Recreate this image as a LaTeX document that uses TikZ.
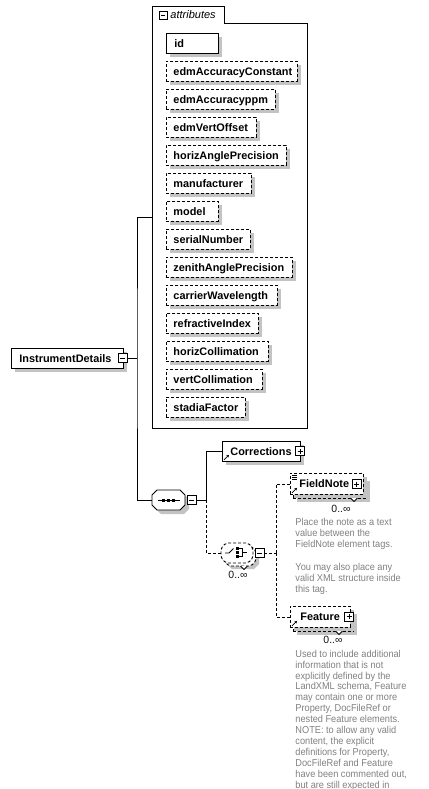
\documentclass[tikz,border=0pt]{standalone}
\usepackage{fontspec}
\setmainfont{Liberation Sans}
\newfontfamily\docfont[FakeStretch=0.92]{Liberation Sans}
\usetikzlibrary{shadows,arrows.meta}
\definecolor{shadowc}{RGB}{195,195,195}
\definecolor{docc}{RGB}{128,128,128}
\definecolor{occc}{RGB}{20,20,20}
\newcommand\octpath[5]{(#1-#3+#5,#2-#4) -- (#1+#3-#5,#2-#4) -- (#1+#3,#2-#4+#5) -- (#1+#3,#2+#4-#5) -- (#1+#3-#5,#2+#4) -- (#1-#3+#5,#2+#4) -- (#1-#3,#2+#4-#5) -- (#1-#3,#2-#4+#5) -- cycle}
\newcommand\mybox[3]{\makebox[#1pt][l]{\hspace*{#2pt}#3}}
\tikzset{
  dsh/.style={dash pattern=on 3pt off 2pt},
  shad/.style={general shadow={fill=shadowc, shadow xshift=4pt, shadow yshift=-4pt}},
  bx/.style={draw, fill=white, rectangle, anchor=north west, inner sep=0pt, minimum height=20pt, text height=10pt, text depth=2pt, font=\fontsize{10.9}{13}\selectfont\bfseries, shad},
  reqbox/.style={bx},
  optbox/.style={bx, dsh},
  pmbox/.style={draw, fill=white, rectangle, inner sep=0pt, minimum size=9pt, line width=0.8pt},
  minus/.style={pmbox, path picture={\draw[line width=0.8pt] ([xshift=2pt]path picture bounding box.west) -- ([xshift=-2pt]path picture bounding box.east);}},
  plus/.style={pmbox, path picture={\draw[line width=0.8pt] ([xshift=2pt]path picture bounding box.west) -- ([xshift=-2pt]path picture bounding box.east) ([yshift=-2pt]path picture bounding box.north) -- ([yshift=2pt]path picture bounding box.south);}},
  reficon/.style={-{Stealth[length=2.6pt,width=2.8pt]}, line width=0.7pt},
  doc/.style={anchor=north west, inner sep=0pt, align=left, font=\docfont\fontsize{10}{11.1}\selectfont, text=docc},
  occ/.style={inner sep=0pt, font=\fontsize{10.5}{12}\selectfont, text=occc},
  hub/.style={inner sep=0pt, minimum width=#1, minimum height=20pt},
}
\begin{document}
\begin{tikzpicture}[x=1pt,y=-1pt, line width=0.9pt]
\useasboundingbox (0,0) rectangle (428,789);

% attributes container
\draw[fill=white] (152,428) -- (152,6) -- (224,6) -- (224,23) -- (307,23) -- (307,428) -- cycle;
\coordinate (attrs) at (152,217);
\node[minus, minimum size=8pt] (attrmin) at (163,15) {};
\node[anchor=west, inner sep=0pt, font=\fontsize{11}{13}\selectfont\itshape] (attrlbl) at (170,15) {attributes};

\node[reqbox] (a01) at (166,33)  {\mybox{52}{8}{id}};
\node[optbox] (a02) at (166,61)  {\mybox{131}{7}{edmAccuracyConstant}};
\node[optbox] (a03) at (166,89)  {\mybox{109}{7}{edmAccuracyppm}};
\node[optbox] (a04) at (166,117) {\mybox{90}{7}{edmVertOffset}};
\node[optbox] (a05) at (166,145) {\mybox{120}{7}{horizAnglePrecision}};
\node[optbox] (a06) at (166,173) {\mybox{85}{7}{manufacturer}};
\node[optbox] (a07) at (166,201) {\mybox{52}{7}{model}};
\node[optbox] (a08) at (166,229) {\mybox{84}{7}{serialNumber}};
\node[optbox] (a09) at (166,257) {\mybox{126}{7}{zenithAnglePrecision}};
\node[optbox] (a10) at (166,285) {\mybox{111}{7}{carrierWavelength}};
\node[optbox] (a11) at (166,313) {\mybox{92}{7}{refractiveIndex}};
\node[optbox] (a12) at (166,341) {\mybox{102}{7}{horizCollimation}};
\node[optbox] (a13) at (166,369) {\mybox{96}{7}{vertCollimation}};
\node[optbox] (a14) at (166,397) {\mybox{79}{7}{stadiaFactor}};

% root element
\node[reqbox] (instr) at (11,348) {\mybox{112}{8}{InstrumentDetails}};
\node[minus] (instrmin) at (122.5,358) {};

% sequence compositor
\node[hub=33pt] (seq) at (168.5,500) {};
\fill[shadowc] \octpath{172.5}{504}{16.5}{10}{5};
\draw[fill=white] \octpath{168.5}{500}{16.5}{10}{5};
\draw[line width=0.8pt] (158,500) -- (180,500);
\fill (162,498.5) rectangle +(3,3);
\fill (167,498.5) rectangle +(3,3);
\fill (172,498.5) rectangle +(3,3);
\node[minus] (seqmin) at (191.5,500) {};

% Corrections
\node[reqbox] (corr) at (222,441) {\mybox{78}{8}{Corrections}};
\draw[reficon] ([shift={(2,-2)}]corr.south west) -- ([shift={(7,-7)}]corr.south west);
\node[plus] (corrplus) at (300,451) {};

% choice compositor
\node[hub=32pt] (choice) at (237,553) {};
\fill[shadowc] \octpath{243}{559}{16}{10}{5};
\draw[dsh, fill=white, rounded corners=2pt] \octpath{240}{556}{16}{10}{5};
\draw[dsh, fill=white, rounded corners=2pt] \octpath{237}{553}{16}{10}{5};
\draw[fill=white, line width=0.8pt] (240.5,566) -- (244,569.5) -- (247.5,566);
\draw[line width=0.8pt] (225,553) -- (229,553) -- (233.5,548.5);
\fill (236,547) rectangle +(2.6,2.6);
\fill (236,551) rectangle +(2.6,2.6);
\fill (236,555) rectangle +(2.6,2.6);
\draw[line width=0.8pt] (238.6,548.3) -- (242,548.3) -- (242,556.3) -- (238.6,556.3) (242,552.3) -- (247,552.3);
\node[minus] (chmin) at (259.5,553) {};
\node[occ] (chocc) at (238,575) {0..∞};

% FieldNote
\node[optbox, minimum width=73pt, minimum height=21pt] (fnback) at (293,477) {};
\draw[fill=white, line width=0.8pt] (350.5,498) -- (354,501.5) -- (357.5,498);
\node[optbox, minimum height=21pt, general shadow={}] (fieldnote) at (290,473) {\mybox{73}{9}{FieldNote}};
\draw[line width=0.6pt] (292,475.5) -- (297,475.5) (292,477.5) -- (297,477.5) (292,479.5) -- (297,479.5);
\draw[reficon] ([shift={(2,-2)}]fieldnote.south west) -- ([shift={(7,-7)}]fieldnote.south west);
\node[plus] (fnplus) at (356.5,484) {};
\node[occ] (fnocc) at (341,509) {0..∞};
\node[doc] (fndoc) at (295,518) {Place the note as a text\\value between the\\FieldNote element tags.\\\mbox{}\\You may also place any\\valid XML structure inside\\this tag.};

% Feature
\node[optbox, minimum width=60pt, minimum height=21pt] (feback) at (293,610) {};
\draw[fill=white, line width=0.8pt] (335.5,631) -- (339,634.5) -- (342.5,631);
\node[optbox, minimum height=21pt, general shadow={}] (feature) at (290,606) {\mybox{60}{10}{Feature}};
\draw[reficon] ([shift={(2,-2)}]feature.south west) -- ([shift={(7,-7)}]feature.south west);
\node[plus] (feplus) at (349,616.5) {};
\node[occ] (feocc) at (333,640) {0..∞};
\node[doc, font=\docfont\fontsize{10}{10.9}\selectfont] (fedoc) at (295,649.5) {Used to include additional\\information that is not\\explicitly defined by the\\LandXML schema, Feature\\may contain one or more\\Property, DocFileRef or\\nested Feature elements.\\NOTE: to allow any valid\\content, the explicit\\definitions for Property,\\DocFileRef and Feature\\have been commented out,\\but are still expected in};

% connectors
\coordinate (bus1) at (137,358);
\coordinate (bus2) at (206,500);
\coordinate (bus3) at (276,553);
\draw (instrmin.east) -- (bus1);
\draw (attrs) -| (bus1) |- (seq.west);
\draw (seqmin.east) -- (bus2);
\draw (bus2) |- (corr.west);
\draw[dsh] (bus2) |- (choice.west);
\draw[dsh] (chmin.east) -- (bus3);
\draw[dsh] (bus3) |- (fieldnote.west);
\draw[dsh] (bus3) |- (feature.west);
\end{tikzpicture}
\end{document}
